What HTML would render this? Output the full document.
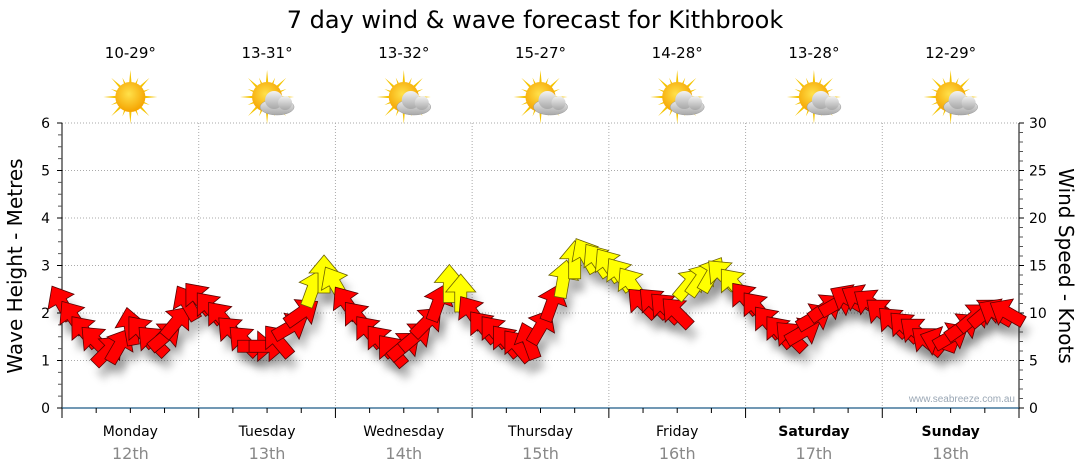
<!DOCTYPE html>
<html><head><meta charset="utf-8"><style>
html,body{margin:0;padding:0;background:#fff;}
svg{display:block;font-family:"DejaVu Sans","Liberation Sans",sans-serif;}
</style></head><body>
<svg id="c" width="1080" height="475" viewBox="0 0 1080 475" xmlns="http://www.w3.org/2000/svg">
<defs>
<filter id="sh" x="-50%" y="-50%" width="200%" height="200%"><feGaussianBlur stdDeviation="4"/></filter>
<radialGradient id="sun" cx="45%" cy="40%" r="60%"><stop offset="0" stop-color="#ffe14a"/><stop offset="1" stop-color="#f5a300"/></radialGradient>
<linearGradient id="cloud" x1="0" y1="0" x2="0" y2="1"><stop offset="0" stop-color="#f2f2f2"/><stop offset="1" stop-color="#a8a8a8"/></linearGradient>
</defs>
<text x="535" y="28" text-anchor="middle" font-size="24" fill="#000">7 day wind &amp; wave forecast for Kithbrook</text>
<g id="grid"></g><g id="hdr"></g><g id="axes"></g><g id="shadows"></g><g id="arrows"></g>
<text x="1015" y="402" text-anchor="end" font-size="10" fill="#9aa7b5" font-family="Liberation Sans, sans-serif">www.seabreeze.com.au</text>
<text transform="translate(22,266) rotate(-90)" text-anchor="middle" font-size="20" fill="#000">Wave Height - Metres</text>
<text transform="translate(1059,266) rotate(90)" text-anchor="middle" font-size="20" fill="#000">Wind Speed - Knots</text>
</svg>
<script>
const days=["Monday","Tuesday","Wednesday","Thursday","Friday","Saturday","Sunday"];
const dates=["12th","13th","14th","15th","16th","17th","18th"];
const temps=["10-29°","13-31°","13-32°","15-27°","14-28°","13-28°","12-29°"];
const cloudy=[false,true,true,true,true,true,true];
const waveTicks=[0,1,2,3,4,5,6];
const windTicks=[0,5,10,15,20,25,30];
// wind speed (knots), 2-hourly
const windSpeed=[11,9.5,8,7,6,6.5,8.5,8,7,7.5,9,11,
11.5,10.5,9.5,8,7,6.5,6.5,7,8.5,10,12.5,14,
13,11,9.5,8,7,6,6.5,7.5,9,11,13,12,
10,8.5,8,7,6.5,7,8.5,11,13.5,15.5,16,15.5,
15,14,13,11,11,10.5,10,13,13.5,14,14,13,
11.5,10.5,9,8,7.5,8,9.5,10.5,11,11.5,11.5,11,
10,9,8.5,8,7,7,7.5,8.5,9.5,10,10,10];
// arrow direction degrees (0=up, clockwise)
const windDir=[-30,-35,-40,-45,45,30,-10,-40,-45,50,40,-30,
-40,-40,-40,-45,-45,90,90,-40,60,55,20,0,
-30,-35,-40,-40,-40,-40,50,50,45,20,0,0,
-35,-40,-40,-40,-40,-20,30,20,10,0,-30,-35,
-35,-35,-35,-45,-45,-45,-45,40,35,30,-45,-40,
-40,-40,-40,-40,-45,60,60,55,60,-60,-60,-55,
-50,-45,-45,-50,-50,-70,60,55,50,50,-60,-60];
const yellowThreshold=12;

const NS="http://www.w3.org/2000/svg";
const X0=62,X1=1019,Y0=408,Y1=123;
const dayW=(X1-X0)/7;
const xT=h=>X0+h/(168)*(X1-X0);
const yW=m=>Y0-m/6*(Y0-Y1);
const yK=k=>Y0-k/30*(Y0-Y1);
function mk(tag,attrs,parent){const e=document.createElementNS(NS,tag);for(const k in attrs)e.setAttribute(k,attrs[k]);parent.appendChild(e);return e;}
const grid=document.getElementById('grid'),axes=document.getElementById('axes'),hdr=document.getElementById('hdr');
waveTicks.forEach(t=>{if(t>0){const l=mk('line',{x1:X0,x2:X1,y1:yW(t),y2:yW(t),stroke:'#aaa','stroke-dasharray':'1,2'},grid);

}});
for(let d=1;d<7;d++){const l=mk('line',{x1:X0+d*dayW,x2:X0+d*dayW,y1:Y1,y2:Y0,stroke:'#aaa','stroke-dasharray':'1,2'},grid);

}
mk('line',{x1:X0,x2:X0,y1:Y1,y2:Y0,stroke:'#000'},axes);
mk('line',{x1:X1,x2:X1,y1:Y1,y2:Y0,stroke:'#000'},axes);
mk('line',{x1:X0,x2:X1,y1:Y0,y2:Y0,stroke:'#1c5a86','stroke-width':1.3},axes);
for(let i=0;i<=24;i++){const m=i/4;const maj=i%4==0;
mk('line',{x1:X0-(maj?5:4),x2:X0,y1:yW(m),y2:yW(m),stroke:maj?'#000':'#555'},axes);}
for(let i=0;i<=30;i++){const maj=i%5==0;mk('line',{x1:X1,x2:X1+(maj?5:4),y1:yK(i),y2:yK(i),stroke:maj?'#000':'#555'},axes);}
waveTicks.forEach(t=>{const e=mk('text',{x:X0-12,y:yW(t)+5,'text-anchor':'end','font-size':14},axes);e.textContent=t;

});
windTicks.forEach(t=>{const e=mk('text',{x:X1+10,y:yK(t)+5,'font-size':14},axes);e.textContent=t;

});
for(let i=0;i<=28;i++){const x=X0+i*dayW/4;const maj=i%4==0;mk('line',{x1:x,x2:x,y1:Y0,y2:Y0+(maj?10:5),stroke:'#000'},axes);}
days.forEach((d,i)=>{const cx=X0+(i+0.5)*dayW;
const t=mk('text',{x:cx,y:436,'text-anchor':'middle','font-size':14,'font-weight':i>=5?'bold':'normal'},axes);t.textContent=d;


const t2=mk('text',{x:cx,y:459,'text-anchor':'middle','font-size':16,fill:'#888'},axes);t2.textContent=dates[i];


const t3=mk('text',{x:cx,y:58,'text-anchor':'middle','font-size':15},hdr);t3.textContent=temps[i];


const g=mk('g',{transform:`translate(${cx},97)`},hdr);


for(let r=0;r<16;r++){const a=r*22.5;const L=r%2?21:27;
mk('polygon',{points:`-2.5,0 2.5,0 0,${-L}`,fill:'#f5c400',transform:`rotate(${a})`},g);}
mk('circle',{r:15,fill:'url(#sun)'},g);
if(cloudy[i]){const cg=mk('g',{transform:'translate(10,6)'},g);
mk('ellipse',{cx:0,cy:4,rx:17,ry:8,fill:'url(#cloud)',stroke:'#999','stroke-width':0.5},cg);
mk('circle',{cx:-3,cy:-3,r:9,fill:'url(#cloud)'},cg);
mk('circle',{cx:8,cy:0,r:7,fill:'url(#cloud)'},cg);}
});
const sh=document.getElementById('shadows'),ar=document.getElementById('arrows');
const pts="0,-20 15,-2 6,-2 6,18 -6,18 -6,-2 -15,-2";
windSpeed.forEach((v,i)=>{const x=xT(i*2),y=yK(v);
const s=mk('polygon',{points:pts,fill:'#000','fill-opacity':0.22,filter:'url(#sh)',transform:`translate(${x+5},${y+12}) rotate(${windDir[i]})`},sh);


const p=mk('polygon',{points:pts,fill:v>=yellowThreshold?'#ffff00':'#ff0000',stroke:v>=yellowThreshold?'#6b6000':'#5a0000','stroke-width':0.8,transform:`translate(${x},${y}) rotate(${windDir[i]})`},ar);

});
</script>
</body></html>
